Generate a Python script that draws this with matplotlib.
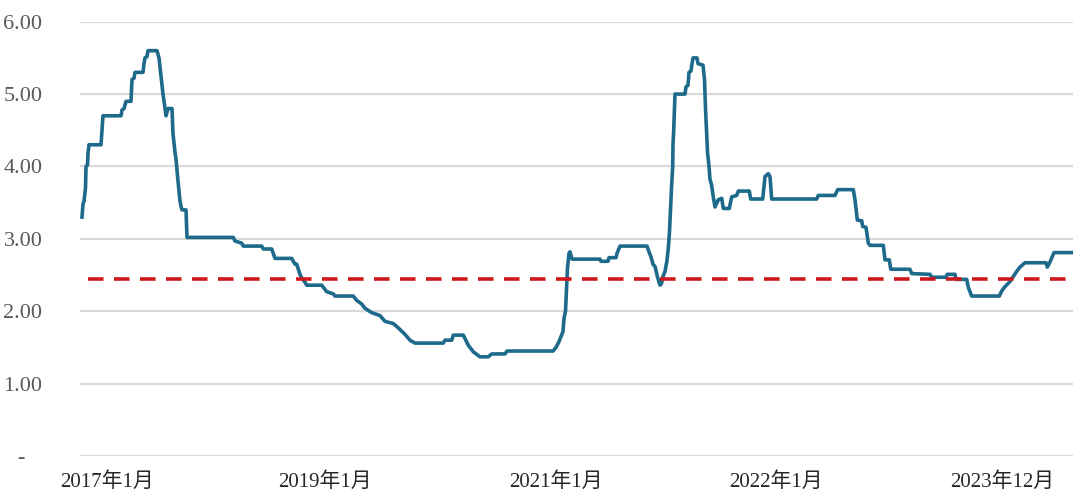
"""Step-like ratio series with long-run average reference line."""

import matplotlib
matplotlib.use("Agg")
import matplotlib.pyplot as plt

# observation position on the category axis, and the series value at that position
obs_idx = [
    2, 3, 4, 5.5, 6, 7.5, 8, 9, 21, 22, 23, 41, 42, 44, 46, 51, 52, 54, 55, 63,
    64, 65, 67, 68, 77, 79, 81, 83, 84, 86, 87, 88, 92, 93, 95, 96, 98, 100, 101, 102,
    106, 107, 153.3, 155, 161.7, 163.3, 181.7, 183.3, 191.7, 195, 211.7, 215, 216.7, 220, 221.7, 225,
    226.7, 241.7, 246.7, 253.3, 255, 273.3, 276.7, 281.7, 285, 291.7, 300, 305, 313.3, 318.3,
    325, 330, 335, 363.3, 365, 371.7, 373.3, 383.3, 388.3, 393.3, 400, 408.3, 411.7, 425,
    427, 473, 476, 479, 481, 483, 484, 485.5, 486.5, 487.5, 489, 490, 492, 520,
    521, 528, 529, 536, 537, 540, 567, 569, 571, 573, 575, 577, 579, 580, 581.5,
    583, 585, 587, 588.5, 589.5, 590.5, 591.5, 592.7, 593, 593.7, 595, 605, 606, 608,
    609, 611, 612, 613, 617, 618, 623, 624.5, 625.5, 626.5, 627.5, 629, 630, 631.5,
    633.3, 635, 638.3, 641.7, 643.3, 649.3, 651.7, 656.7, 658.3, 669.3, 670.7, 682.7,
    685, 688.3, 690, 691.7, 736.7, 738.3, 755, 757.7, 773.3, 775, 777.3, 781.7, 782.7,
    786, 788.3, 790, 803.3, 805, 809.3, 810.7, 830, 831.7, 850, 851.7, 866, 867.3,
    875, 876, 886.7, 888.3, 891.7, 919.3, 921.7, 925, 930, 933.3, 936.7, 940, 945,
    966, 967.3, 970, 974, 993,
]
ratio = [
    3.30, 3.48, 3.52, 3.70, 4.00, 4.02, 4.18, 4.30, 4.30, 4.50, 4.70, 4.70, 4.78, 4.80, 4.90, 4.90, 5.20, 5.22, 5.30, 5.30,
    5.42, 5.50, 5.52, 5.60, 5.60, 5.50, 5.25, 5.00, 4.90, 4.70, 4.75, 4.80, 4.80, 4.45, 4.20, 4.10, 3.80, 3.52, 3.45, 3.40,
    3.40, 3.02, 3.02, 2.97, 2.94, 2.90, 2.90, 2.86, 2.86, 2.73, 2.73, 2.65, 2.65, 2.51, 2.46, 2.40,
    2.36, 2.36, 2.27, 2.24, 2.21, 2.21, 2.15, 2.10, 2.04, 1.98, 1.94, 1.86, 1.83, 1.77,
    1.68, 1.60, 1.56, 1.56, 1.60, 1.60, 1.67, 1.67, 1.53, 1.44, 1.37, 1.37, 1.41, 1.41,
    1.45, 1.45, 1.50, 1.58, 1.65, 1.72, 1.90, 2.00, 2.30, 2.60, 2.80, 2.82, 2.72, 2.72,
    2.69, 2.69, 2.74, 2.74, 2.80, 2.90, 2.90, 2.82, 2.75, 2.65, 2.62, 2.50, 2.40, 2.36, 2.38,
    2.48, 2.55, 2.70, 2.90, 3.10, 3.40, 3.70, 4.00, 4.30, 4.50, 5.00, 5.00, 5.10, 5.12,
    5.30, 5.32, 5.42, 5.50, 5.50, 5.42, 5.40, 5.20, 4.80, 4.50, 4.20, 4.00, 3.82, 3.75,
    3.58, 3.44, 3.54, 3.56, 3.42, 3.42, 3.58, 3.60, 3.66, 3.66, 3.55, 3.55,
    3.86, 3.90, 3.86, 3.55, 3.55, 3.60, 3.60, 3.68, 3.68, 3.54, 3.26, 3.25, 3.17,
    3.16, 2.94, 2.91, 2.91, 2.71, 2.71, 2.58, 2.58, 2.52, 2.51, 2.47, 2.47, 2.51,
    2.51, 2.44, 2.44, 2.33, 2.21, 2.21, 2.28, 2.34, 2.41, 2.48, 2.55, 2.61, 2.67,
    2.67, 2.61, 2.68, 2.81, 2.81,
]
avg_level = 2.44
avg_start = 8

date_pos = [27, 245, 476, 696, 922]
date_labels = ["2017年1月", "2019年1月", "2021年1月", "2022年1月", "2023年12月"]
y_ticks = [0, 1, 2, 3, 4, 5, 6]
y_labels = ["-   ", "1.00", "2.00", "3.00", "4.00", "5.00", "6.00"]

plt.rcParams["font.family"] = ["Liberation Serif", "Noto Sans CJK SC"]

fig = plt.figure(figsize=(10.73, 4.97), dpi=100)
ax = fig.add_axes([80 / 1073, 41 / 497, 993 / 1073, 434.3 / 497])

ax.plot(obs_idx, ratio, color="#1d6a8b", lw=2.6, solid_joinstyle="round", zorder=3)
ax.hlines(avg_level, avg_start, 993, colors="#d0181b", lw=2.6,
          linestyles=(0, (4.3, 2.9)), zorder=4)

ax.set_xlim(0, 993)
ax.set_ylim(0, 6)
ax.set_yticks(y_ticks)
ax.set_yticklabels(y_labels, color="#595959", fontsize=16)
ax.set_xticks(date_pos)
ax.set_xticklabels(date_labels, color="#262626", fontsize=15)
ax.tick_params(axis="y", length=0, pad=27)
ax.tick_params(axis="x", length=0, pad=12)
ax.grid(axis="y", color="#d9d9d9", lw=1.6)
ax.set_axisbelow(True)
for side in ax.spines.values():
    side.set_visible(False)

fig.savefig("out.png", dpi=100)
